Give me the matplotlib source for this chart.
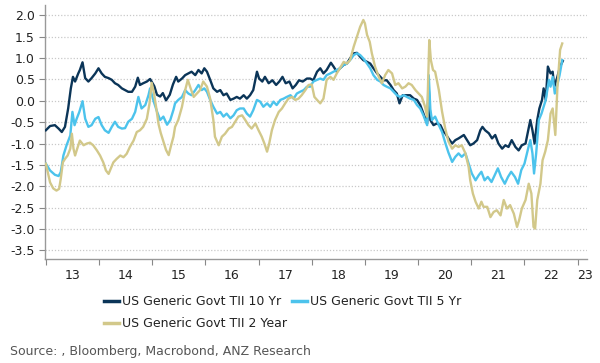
import matplotlib
matplotlib.use("Agg")
import matplotlib.pyplot as plt
from matplotlib.ticker import FixedLocator, NullFormatter

# ---------------- data (decimal years, real yield %) ----------------
x10 = [2013.00, 2013.08, 2013.17, 2013.24, 2013.30, 2013.36, 2013.42, 2013.47, 2013.51, 2013.55,
       2013.61, 2013.64, 2013.69, 2013.74, 2013.80, 2013.86, 2013.93, 2013.99, 2014.05, 2014.11,
       2014.18, 2014.24, 2014.30, 2014.36, 2014.43, 2014.49, 2014.55, 2014.62, 2014.68, 2014.73,
       2014.77, 2014.83, 2014.90, 2014.96, 2015.04, 2015.09, 2015.15, 2015.20, 2015.26, 2015.33,
       2015.39, 2015.45, 2015.49, 2015.56, 2015.62, 2015.68, 2015.74, 2015.81, 2015.87, 2015.93,
       2015.98, 2016.03, 2016.09, 2016.15, 2016.22, 2016.28, 2016.34, 2016.40, 2016.47, 2016.53,
       2016.59, 2016.65, 2016.72, 2016.78, 2016.84, 2016.90, 2016.97, 2017.01, 2017.07, 2017.12,
       2017.19, 2017.26, 2017.33, 2017.39, 2017.45, 2017.51, 2017.58, 2017.64, 2017.70, 2017.76,
       2017.83, 2017.91, 2017.97, 2018.03, 2018.10, 2018.16, 2018.22, 2018.28, 2018.36, 2018.41,
       2018.47, 2018.53, 2018.60, 2018.66, 2018.72, 2018.79, 2018.85, 2018.91, 2018.97, 2019.04,
       2019.10, 2019.16, 2019.23, 2019.29, 2019.35, 2019.41, 2019.48, 2019.54, 2019.60, 2019.65,
       2019.71, 2019.79, 2019.85, 2019.92, 2019.98, 2020.04, 2020.10, 2020.17, 2020.20, 2020.23,
       2020.29, 2020.35, 2020.42, 2020.48, 2020.51, 2020.57, 2020.64, 2020.70, 2020.76, 2020.86,
       2020.92, 2020.98, 2021.04, 2021.11, 2021.17, 2021.21, 2021.26, 2021.33, 2021.39, 2021.45,
       2021.51, 2021.58, 2021.64, 2021.70, 2021.76, 2021.83, 2021.89, 2021.95, 2022.02, 2022.07,
       2022.11, 2022.15, 2022.19, 2022.24, 2022.28, 2022.33, 2022.36, 2022.40, 2022.44, 2022.49,
       2022.53, 2022.56, 2022.61, 2022.67, 2022.72]
y10 = [-0.69, -0.59, -0.57, -0.65, -0.73, -0.61, -0.18, 0.29, 0.56, 0.45,
       0.64, 0.72, 0.90, 0.53, 0.45, 0.53, 0.64, 0.76, 0.64, 0.56,
       0.53, 0.49, 0.41, 0.37, 0.29, 0.25, 0.21, 0.21, 0.33, 0.54,
       0.37, 0.41, 0.45, 0.51, 0.34, 0.14, 0.10, 0.18, 0.01, 0.14,
       0.38, 0.56, 0.45, 0.52, 0.60, 0.64, 0.68, 0.60, 0.72, 0.64,
       0.76, 0.68, 0.49, 0.29, 0.21, 0.25, 0.13, 0.17, 0.02, 0.05,
       0.09, 0.05, 0.13, 0.05, 0.13, 0.25, 0.68, 0.52, 0.45, 0.56,
       0.41, 0.48, 0.37, 0.45, 0.56, 0.41, 0.45, 0.29, 0.37, 0.48,
       0.45, 0.52, 0.52, 0.48, 0.68, 0.76, 0.64, 0.72, 0.89, 0.80,
       0.68, 0.76, 0.84, 0.87, 0.99, 1.11, 1.12, 1.03, 0.95, 0.91,
       0.87, 0.76, 0.64, 0.56, 0.48, 0.48, 0.37, 0.25, 0.17, -0.06,
       0.13, 0.13, 0.13, 0.05, 0.02, -0.10, -0.30, -0.53, 0.30, -0.45,
       -0.57, -0.53, -0.57, -0.73, -0.76, -0.88, -1.00, -0.92, -0.88, -0.80,
       -0.92, -1.04, -1.00, -0.92, -0.69, -0.61, -0.69, -0.76, -0.88, -0.80,
       -1.00, -1.12, -1.04, -1.08, -0.92, -1.08, -1.16, -1.04, -1.00, -0.69,
       -0.45, -0.69, -1.00, -0.45, -0.18, 0.02, 0.29, 0.02, 0.80, 0.64,
       0.68, 0.33, 0.52, 0.80, 0.93]

x5 = [2013.00, 2013.08, 2013.17, 2013.24, 2013.28, 2013.33, 2013.39, 2013.46, 2013.50, 2013.54,
      2013.58, 2013.63, 2013.69, 2013.74, 2013.80, 2013.86, 2013.93, 2013.99, 2014.05, 2014.11,
      2014.18, 2014.24, 2014.30, 2014.36, 2014.43, 2014.49, 2014.55, 2014.62, 2014.68, 2014.74,
      2014.80, 2014.87, 2014.93, 2014.96, 2015.03, 2015.09, 2015.15, 2015.21, 2015.28, 2015.34,
      2015.40, 2015.43, 2015.49, 2015.56, 2015.62, 2015.68, 2015.74, 2015.81, 2015.87, 2015.93,
      2015.98, 2016.03, 2016.09, 2016.15, 2016.22, 2016.28, 2016.34, 2016.40, 2016.47, 2016.53,
      2016.59, 2016.65, 2016.72, 2016.78, 2016.84, 2016.90, 2016.97, 2017.03, 2017.09, 2017.16,
      2017.22, 2017.28, 2017.34, 2017.41, 2017.47, 2017.53, 2017.60, 2017.66, 2017.72, 2017.78,
      2017.85, 2017.91, 2017.97, 2018.03, 2018.10, 2018.16, 2018.22, 2018.28, 2018.35, 2018.41,
      2018.47, 2018.53, 2018.60, 2018.66, 2018.72, 2018.79, 2018.85, 2018.91, 2018.97, 2019.04,
      2019.10, 2019.16, 2019.23, 2019.29, 2019.35, 2019.41, 2019.48, 2019.54, 2019.60, 2019.66,
      2019.73, 2019.79, 2019.85, 2019.92, 2019.98, 2020.04, 2020.10, 2020.17, 2020.20, 2020.23,
      2020.26, 2020.32, 2020.39, 2020.45, 2020.51, 2020.57, 2020.64, 2020.70, 2020.76, 2020.82,
      2020.89, 2020.95, 2021.01, 2021.08, 2021.14, 2021.19, 2021.25, 2021.31, 2021.38, 2021.44,
      2021.50, 2021.56, 2021.63, 2021.69, 2021.75, 2021.82, 2021.88, 2021.94, 2022.00, 2022.07,
      2022.11, 2022.15, 2022.18, 2022.22, 2022.27, 2022.32, 2022.36, 2022.40, 2022.46, 2022.49,
      2022.53, 2022.57, 2022.61, 2022.66, 2022.71]
y5 = [-1.47, -1.63, -1.73, -1.76, -1.67, -1.28, -1.04, -0.81, -0.26, -0.57,
      -0.42, -0.26, -0.01, -0.42, -0.61, -0.57, -0.42, -0.38, -0.57, -0.69,
      -0.75, -0.61, -0.49, -0.61, -0.65, -0.64, -0.49, -0.42, -0.26, 0.09,
      -0.18, -0.10, 0.13, 0.29, -0.02, -0.25, -0.45, -0.37, -0.56, -0.45,
      -0.21, -0.06, 0.02, 0.09, 0.25, 0.17, 0.13, 0.25, 0.37, 0.25,
      0.29, 0.21, 0.02, -0.14, -0.30, -0.26, -0.37, -0.30, -0.41, -0.34,
      -0.22, -0.18, -0.18, -0.30, -0.37, -0.22, 0.02, -0.02, -0.14, -0.06,
      -0.14, -0.02, -0.10, 0.02, 0.05, 0.09, 0.13, 0.05, 0.17, 0.21,
      0.25, 0.33, 0.33, 0.45, 0.49, 0.52, 0.49, 0.60, 0.64, 0.68,
      0.72, 0.76, 0.84, 0.87, 0.95, 1.07, 1.11, 1.07, 0.99, 0.87,
      0.76, 0.60, 0.49, 0.45, 0.37, 0.33, 0.29, 0.21, 0.13, 0.09,
      0.13, 0.09, 0.05, 0.02, -0.10, -0.18, -0.34, -0.57, 0.60, -0.20,
      -0.45, -0.37, -0.57, -0.73, -0.98, -1.21, -1.43, -1.31, -1.23, -1.31,
      -1.23, -1.47, -1.70, -1.86, -1.74, -1.66, -1.86, -1.78, -1.90, -1.74,
      -1.58, -1.78, -1.94, -1.78, -1.66, -1.78, -1.94, -1.62, -1.47, -1.11,
      -0.92, -1.23, -1.70, -1.23, -0.45, -0.30, -0.14, 0.02, 0.49, 0.33,
      0.56, 0.17, 0.33, 0.60, 0.95]

x2 = [2013.00, 2013.08, 2013.14, 2013.20, 2013.25, 2013.28, 2013.32, 2013.36, 2013.41, 2013.46,
      2013.49, 2013.52, 2013.55, 2013.59, 2013.64, 2013.71, 2013.77, 2013.83, 2013.89, 2013.96,
      2014.02, 2014.08, 2014.13, 2014.18, 2014.22, 2014.27, 2014.33, 2014.40, 2014.46, 2014.52,
      2014.58, 2014.65, 2014.71, 2014.77, 2014.83, 2014.90, 2014.95, 2014.99, 2015.03, 2015.08,
      2015.12, 2015.16, 2015.21, 2015.26, 2015.31, 2015.35, 2015.40, 2015.43, 2015.49, 2015.56,
      2015.62, 2015.67, 2015.72, 2015.78, 2015.84, 2015.90, 2015.96, 2016.03, 2016.09, 2016.15,
      2016.18, 2016.25, 2016.31, 2016.37, 2016.44, 2016.50, 2016.56, 2016.62, 2016.69, 2016.75,
      2016.81, 2016.87, 2016.94, 2017.00, 2017.06, 2017.11, 2017.16, 2017.20, 2017.25, 2017.31,
      2017.38, 2017.44, 2017.50, 2017.56, 2017.63, 2017.69, 2017.75, 2017.81, 2017.88, 2017.94,
      2018.00, 2018.05, 2018.10, 2018.16, 2018.22, 2018.28, 2018.35, 2018.41, 2018.47, 2018.53,
      2018.60, 2018.66, 2018.72, 2018.79, 2018.85, 2018.91, 2018.97, 2019.00, 2019.04, 2019.09,
      2019.13, 2019.19, 2019.26, 2019.32, 2019.38, 2019.44, 2019.51, 2019.57, 2019.63, 2019.70,
      2019.76, 2019.82, 2019.88, 2019.95, 2020.01, 2020.07, 2020.13, 2020.17, 2020.19, 2020.21,
      2020.24, 2020.28, 2020.32, 2020.39, 2020.45, 2020.51, 2020.57, 2020.64, 2020.70, 2020.76,
      2020.82, 2020.89, 2020.95, 2020.98, 2021.03, 2021.08, 2021.14, 2021.19, 2021.23, 2021.30,
      2021.36, 2021.42, 2021.48, 2021.55, 2021.61, 2021.67, 2021.73, 2021.80, 2021.86, 2021.90,
      2021.95, 2022.02, 2022.08, 2022.13, 2022.17, 2022.20, 2022.24, 2022.30, 2022.34, 2022.39,
      2022.44, 2022.49, 2022.53, 2022.58, 2022.62, 2022.67, 2022.71]
y2 = [-1.47, -1.91, -2.05, -2.10, -2.06, -1.83, -1.44, -1.36, -1.28, -1.12,
      -0.77, -1.12, -1.28, -1.12, -0.93, -1.04, -1.00, -0.98, -1.04, -1.16,
      -1.28, -1.44, -1.63, -1.71, -1.59, -1.44, -1.36, -1.28, -1.32, -1.24,
      -1.08, -0.93, -0.73, -0.69, -0.61, -0.42, -0.06, 0.42, 0.20, -0.20,
      -0.55, -0.75, -0.95, -1.15, -1.27, -1.07, -0.84, -0.61, -0.45, -0.14,
      0.25, 0.49, 0.30, 0.09, 0.17, 0.25, 0.45, 0.33, 0.05, -0.45,
      -0.84, -1.04, -0.84, -0.77, -0.65, -0.61, -0.49, -0.37, -0.34, -0.45,
      -0.57, -0.65, -0.53, -0.69, -0.84, -1.00, -1.19, -1.00, -0.69, -0.45,
      -0.26, -0.18, -0.06, 0.05, 0.09, 0.02, 0.05, 0.13, 0.25, 0.37,
      0.38, 0.09, 0.02, -0.06, 0.05, 0.49, 0.56, 0.49, 0.64, 0.76,
      0.91, 0.87, 0.95, 1.27, 1.50, 1.73, 1.89, 1.81, 1.54, 1.38,
      1.11, 0.80, 0.56, 0.41, 0.60, 0.72, 0.64, 0.37, 0.41, 0.29,
      0.33, 0.41, 0.37, 0.25, 0.17, 0.09, -0.14, -0.37, 0.56, 1.42,
      0.95, 0.72, 0.68, 0.25, -0.25, -0.65, -0.95, -1.12, -1.04, -1.08,
      -1.04, -1.23, -1.55, -1.86, -2.17, -2.36, -2.52, -2.36, -2.48, -2.48,
      -2.72, -2.60, -2.56, -2.68, -2.32, -2.52, -2.44, -2.64, -2.95, -2.79,
      -2.52, -2.32, -1.94, -2.17, -2.95, -2.99, -2.32, -1.94, -1.39, -1.19,
      -0.92, -0.30, -0.18, -0.80, 0.33, 1.19, 1.34]

labels = ["US Generic Govt TII 10 Yr", "US Generic Govt TII 5 Yr", "US Generic Govt TII 2 Year"]
colors = ["#0b3558", "#4cc3ec", "#d2c88a"]
year_ticks = list(range(2013, 2024))
year_label_pos = [2013.5, 2014.5, 2015.5, 2016.5, 2017.5, 2018.5, 2019.5, 2020.5, 2021.5, 2022.5, 2023.14]
year_labels = ["13", "14", "15", "16", "17", "18", "19", "20", "21", "22", "23"]
y_ticks = [2.0, 1.5, 1.0, 0.5, 0.0, -0.5, -1.0, -1.5, -2.0, -2.5, -3.0, -3.5]
source = "Source: , Bloomberg, Macrobond, ANZ Research"

# ---------------- figure ----------------
plt.rcParams['font.family'] = ['DejaVu Sans']
fig = plt.figure(figsize=(6.0, 3.63), dpi=100)
ax = fig.add_axes([44.5 / 600, 1 - 259 / 363, (586.7 - 44.5) / 600, (259 - 5) / 363])

l10, = ax.plot(x10, y10, color=colors[0], lw=1.7, solid_joinstyle='round', zorder=3)
l5, = ax.plot(x5, y5, color=colors[1], lw=1.7, solid_joinstyle='round', zorder=4)
l2, = ax.plot(x2, y2, color=colors[2], lw=1.7, solid_joinstyle='round', zorder=5)

ax.set_xlim(2012.975, 2023.17)
ax.set_ylim(-3.70, 2.24)

ax.set_yticks(y_ticks)
ax.set_yticklabels([f"{v:.1f}" for v in y_ticks])
ax.yaxis.grid(True, linestyle=(0, (1, 1.5)), color="#c9c9c9", lw=0.9)
ax.set_axisbelow(True)

ax.xaxis.set_major_locator(FixedLocator(year_ticks))
ax.xaxis.set_major_formatter(NullFormatter())
ax.xaxis.set_minor_locator(FixedLocator(year_label_pos))
ax.set_xticklabels(year_labels, minor=True)
ax.tick_params(axis='x', which='minor', length=0, pad=7, labelsize=9, labelcolor="#222222")
ax.tick_params(axis='x', which='major', length=4, width=0.8, color="#888888", direction='out')
ax.tick_params(axis='y', length=4, width=0.8, color="#888888", labelsize=9, labelcolor="#222222", pad=3)

for s in ['top', 'right']:
    ax.spines[s].set_visible(False)
for s in ['left', 'bottom']:
    ax.spines[s].set_color("#999999")
    ax.spines[s].set_linewidth(1.0)

# legend: row1 10Yr, 5Yr ; row2 2 Year
leg = fig.legend([l10, l2, l5], [labels[0], labels[2], labels[1]], ncol=2,
                 loc='upper left', bbox_to_anchor=(104 / 600, 1 - 295 / 363),
                 frameon=False, fontsize=9, handlelength=1.2, handletextpad=0.25,
                 columnspacing=0.35, labelspacing=0.75, borderpad=0, borderaxespad=0)
for line in leg.get_lines():
    line.set_linewidth(2.5)
for t in leg.get_texts():
    t.set_color("#222222")

fig.text(10 / 600, 1 - 351 / 363, source, ha='left', va='center', fontsize=9, color="#555555")

fig.savefig("out.png", dpi=100)
